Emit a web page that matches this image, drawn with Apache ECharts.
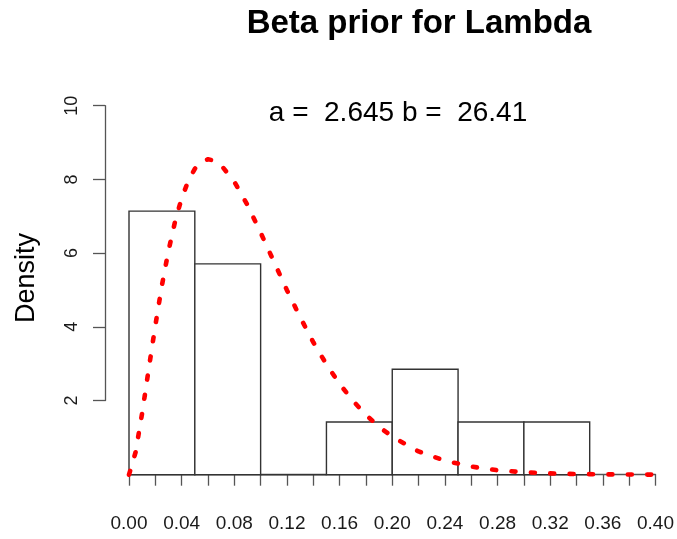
<!DOCTYPE html>
<html>
<head>
<meta charset="utf-8">
<script src="https://cdn.jsdelivr.net/npm/echarts@6/dist/echarts.min.js"></script>
<style>html,body{margin:0;padding:0;background:#fff}#c{width:677px;height:539px}</style>
</head>
<body>
<div id="c"></div>
<script>
// Histogram bins (density scale)
const binStart = [0.00, 0.05, 0.10, 0.15, 0.20, 0.25, 0.30];
const binEnd   = [0.05, 0.10, 0.15, 0.20, 0.25, 0.30, 0.35];
const density  = [7.143, 5.714, 0, 1.429, 2.857, 1.429, 1.429];

// Beta prior curve
const curveX = [0, 0.005, 0.01, 0.015, 0.02, 0.025, 0.03, 0.035, 0.04, 0.045, 0.05, 0.055, 0.06, 0.065, 0.07, 0.08, 0.09, 0.10, 0.11, 0.12, 0.13, 0.14, 0.15, 0.16, 0.17, 0.18, 0.19, 0.20, 0.22, 0.24, 0.26, 0.28, 0.30, 0.32, 0.34, 0.36, 0.38, 0.40];
const curveY = [0, 0.61, 1.67, 2.87, 4.04, 5.13, 6.07, 6.86, 7.49, 7.96, 8.29, 8.48, 8.55, 8.51, 8.39, 7.94, 7.31, 6.56, 5.78, 5.00, 4.27, 3.59, 2.99, 2.46, 2.01, 1.62, 1.30, 1.03, 0.63, 0.38, 0.22, 0.12, 0.067, 0.036, 0.019, 0.009, 0.005, 0.002];

// Axis ticks
const xTicks = [0, 0.04, 0.08, 0.12, 0.16, 0.20, 0.24, 0.28, 0.32, 0.36, 0.40];
const yTicks = [2, 4, 6, 8, 10];

const titleText = 'Beta prior for Lambda';
const noteText = 'a =  2.645 b =  26.41';
const yName = 'Density';

const FONT = 'Liberation Sans, Arial, sans-serif';
const axisColor = '#555';

const histData = binStart.map((s, i) => [s, binEnd[i], density[i]]);
const curveData = curveX.map((x, i) => [x, curveY[i]]);

const chart = echarts.init(document.getElementById('c'), null, {renderer: 'canvas'});
chart.setOption({
  animation: false,
  backgroundColor: '#fff',
  grid: [
    {left: 129, right: 18.3, top: 105.7, bottom: 64.3},
    {left: 105, width: 24, top: 105.7, bottom: 138.5}
  ],
  xAxis: [
    {
      gridIndex: 0, type: 'value', min: xTicks[0], max: xTicks[xTicks.length - 1], interval: 0.04,
      offset: 16,
      axisLine: {show: true, lineStyle: {color: axisColor, width: 1.3}},
      axisTick: {show: true, length: 11, lineStyle: {color: axisColor, width: 1.3}},
      minorTick: {show: true, splitNumber: 2, length: 11, lineStyle: {color: axisColor, width: 1.3}},
      splitLine: {show: false},
      axisLabel: {fontSize: 19, fontFamily: FONT, color: '#1a1a1a', margin: 24,
        formatter: v => v.toFixed(2)}
    },
    {gridIndex: 1, type: 'value', show: false, min: 0, max: 1}
  ],
  yAxis: [
    {gridIndex: 0, type: 'value', min: 0, max: 10, show: false},
    {
      gridIndex: 1, type: 'value', min: yTicks[0], max: yTicks[yTicks.length - 1], interval: 2,
      axisLine: {show: true, lineStyle: {color: axisColor, width: 1.3}},
      axisTick: {show: true, length: 12, lineStyle: {color: axisColor, width: 1.3}},
      splitLine: {show: false},
      axisLabel: {fontSize: 18, fontFamily: FONT, color: '#1a1a1a', rotate: 90, margin: 23.5}
    }
  ],
  graphic: [
    {type: 'text', x: 419, y: 24, style: {text: titleText, font: 'bold 33px ' + FONT, fill: '#000', textAlign: 'center', textVerticalAlign: 'middle'}},
    {type: 'text', x: 398, y: 113, style: {text: noteText, font: '28px ' + FONT, fill: '#000', textAlign: 'center', textVerticalAlign: 'middle'}},
    {type: 'text', x: 27, y: 278, rotation: Math.PI / 2, style: {text: yName, font: '27px ' + FONT, fill: '#000', textAlign: 'center', textVerticalAlign: 'middle'}}
  ],
  series: [
    {
      type: 'custom', xAxisIndex: 0, yAxisIndex: 0, clip: false,
      data: histData,
      encode: {x: [0, 1], y: 2},
      renderItem: function (params, api) {
        const x0 = api.value(0), x1 = api.value(1), h = api.value(2);
        const p0 = api.coord([x0, 0]);
        const p1 = api.coord([x1, h]);
        if (h === 0) {
          return {type: 'line', shape: {x1: p0[0], y1: p0[1], x2: p1[0], y2: p0[1]},
            style: {stroke: '#333', lineWidth: 1.4}};
        }
        return {type: 'rect', shape: {x: p0[0], y: p1[1], width: p1[0] - p0[0], height: p0[1] - p1[1]},
          style: {fill: '#fff', stroke: '#333', lineWidth: 1.4}};
      },
      z: 2
    },
    {
      type: 'line', xAxisIndex: 0, yAxisIndex: 0,
      data: curveData, showSymbol: false, symbol: 'none',
      lineStyle: {color: '#ff0000', width: 4.6, type: [4, 15.4], cap: 'round'},
      z: 3
    }
  ]
});
</script>
</body>
</html>
